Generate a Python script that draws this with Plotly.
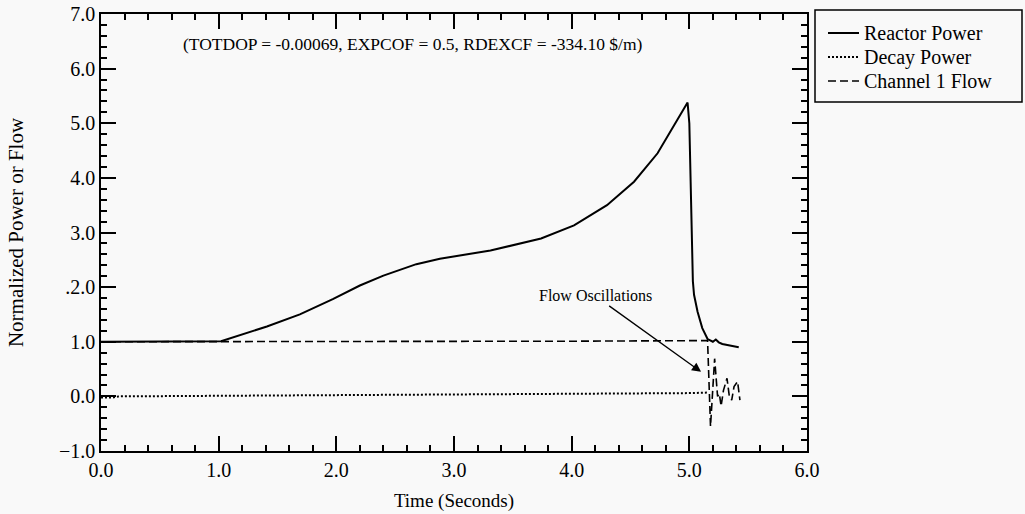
import plotly.graph_objects as go

# ---- data ----
reactor_t = [0.0, 1.0, 1.02, 1.41, 1.69, 1.97, 2.20, 2.40, 2.68, 2.88, 2.97, 3.31, 3.74, 4.02,
             4.30, 4.53, 4.73, 4.87, 4.985, 5.0, 5.03, 5.04, 5.07, 5.11, 5.155, 5.20, 5.225,
             5.25, 5.28, 5.42]
reactor_v = [1.0, 1.0, 1.01, 1.28, 1.50, 1.78, 2.03, 2.21, 2.42, 2.52, 2.55, 2.67, 2.89, 3.13,
             3.50, 3.93, 4.45, 4.95, 5.38, 5.0, 2.11, 1.86, 1.55, 1.25, 1.05, 1.0, 1.04,
             0.99, 0.96, 0.90]

decay_t = [0.0, 0.1, 0.15, 1.0, 2.0, 3.0, 4.0, 5.0, 5.16]
decay_v = [-0.02, -0.02, 0.0, 0.01, 0.02, 0.03, 0.04, 0.06, 0.07]

flow_t = [0.0, 1.0, 2.0, 3.0, 4.0, 5.0, 5.155, 5.18, 5.215, 5.24, 5.255, 5.27, 5.29, 5.32,
          5.34, 5.36, 5.38, 5.41, 5.43]
flow_v = [1.0, 1.0, 1.0, 1.01, 1.01, 1.02, 1.02, -0.55, 0.69, 0.0, 0.05, -0.18, 0.11, 0.33,
          0.0, -0.07, 0.18, 0.27, -0.07]

series_names = ["Reactor Power", "Decay Power", "Channel 1 Flow"]

x_range = [0, 6]
y_range = [-1, 7]
y_label_alias = {"2.0": ".2.0"}   # the reference prints ".2.0" at the 2.0 tick

title_text = "(TOTDOP = -0.00069, EXPCOF = 0.5, RDEXCF = -334.10 $/m)"
title_pos = (2.65, 6.45)
note_text = "Flow Oscillations"
note_tip = (5.10, 0.45)
note_tail = (4.20, 1.84)

FONT = "Liberation Serif"
BG = "#f9f9f9"

styles = [
    dict(color="black", width=2),
    dict(color="black", width=2, dash="2px,2px"),
    dict(color="black", width=1.6, dash="8px,4px"),
]

fig = go.Figure()
for name, xs, ys, st in zip(series_names, [reactor_t, decay_t, flow_t],
                            [reactor_v, decay_v, flow_v], styles):
    fig.add_trace(go.Scatter(x=xs, y=ys, mode="lines", name=name, line=st, showlegend=False))

axis_style = dict(
    showgrid=False, zeroline=False, showline=True, linecolor="black", linewidth=1.5,
    mirror="ticks", ticks="inside", tickcolor="black", tickwidth=1.5, ticklen=15,
    tickmode="linear", tick0=0, dtick=1, tickformat=".1f",
    tickfont=dict(family=FONT, size=20, color="black"),
    minor=dict(dtick=0.2, ticks="inside", ticklen=6, tickcolor="black", tickwidth=1.5,
               showgrid=False),
    automargin=False,
    layer="above traces",
)

fig.update_layout(
    width=1025, height=514,
    margin=dict(l=101, r=218, t=14, b=63),
    paper_bgcolor=BG, plot_bgcolor="rgba(0,0,0,0)",
    showlegend=False,
    xaxis=dict(range=x_range,
               title=dict(text="Time (Seconds)", font=dict(family=FONT, size=19, color="black"),
                          standoff=14), **axis_style),
    yaxis=dict(range=y_range, labelalias=y_label_alias,
               title=dict(text="Normalized Power or Flow", font=dict(family=FONT, size=21, color="black"),
                          standoff=30), **axis_style),
)

fig.add_annotation(x=title_pos[0], y=title_pos[1], xref="x", yref="y", text=title_text,
                   showarrow=False, font=dict(family=FONT, size=17.5, color="black"))

fig.add_annotation(x=note_tip[0], y=note_tip[1], ax=note_tail[0], ay=note_tail[1],
                   xref="x", yref="y", axref="x", ayref="y", text=note_text,
                   showarrow=True, arrowhead=2, arrowsize=1.4, arrowwidth=1.3, arrowcolor="black",
                   font=dict(family=FONT, size=16, color="black"))

# ---- legend box (paper coords; plot area spans 101..807 px, 14..451 px) ----
def px_x(p):
    return (p - 101) / 706.0

def px_y(p):
    return (451 - p) / 437.0

fig.add_shape(type="rect", xref="paper", yref="paper",
              x0=px_x(815), x1=px_x(1022), y0=px_y(102), y1=px_y(10),
              line=dict(color="black", width=1.5), fillcolor=BG)
row_px = [33, 57, 81]
for name, st, ry in zip(series_names, styles, row_px):
    fig.add_shape(type="line", xref="paper", yref="paper",
                  x0=px_x(828), x1=px_x(859), y0=px_y(ry), y1=px_y(ry), line=st)
    fig.add_annotation(x=px_x(862), y=px_y(ry), xref="paper", yref="paper", text=name,
                       showarrow=False, xanchor="left", yanchor="middle",
                       font=dict(family=FONT, size=20, color="black"))

fig.write_html("out.html")
